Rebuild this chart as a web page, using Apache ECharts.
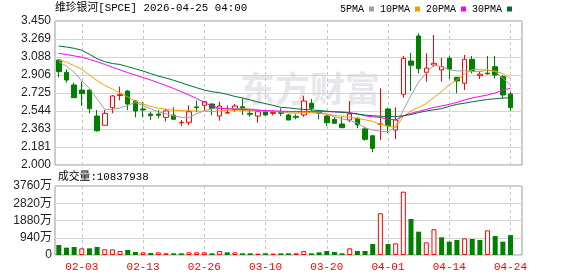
<!DOCTYPE html>
<html><head><meta charset="utf-8">
<script src="https://cdn.jsdelivr.net/npm/echarts@6/dist/echarts.min.js"></script>
<style>html,body{margin:0;padding:0;background:#fff}#c{width:578px;height:276px}</style>
</head><body><div id="c"></div>
<script>
const stockName = '维珍银河[SPCE]';
const stampText = '2026-04-25 04:00';
const volTitle = '成交量';
const dates = ['01-29','01-30','02-02','02-03','02-04','02-05','02-06','02-09','02-10','02-11',
  '02-12','02-13','02-17','02-18','02-19','02-20','02-23','02-24','02-25','02-26',
  '02-27','03-02','03-03','03-04','03-05','03-06','03-09','03-10','03-11','03-12',
  '03-13','03-16','03-17','03-18','03-19','03-20','03-23','03-24','03-25','03-26',
  '03-27','03-30','03-31','04-01','04-02','04-06','04-07','04-08','04-09','04-10',
  '04-13','04-14','04-15','04-16','04-17','04-20','04-21','04-22','04-23','04-24'];
const opens = [3.057,2.933,2.806,2.755,2.755,2.493,2.400,2.577,2.700,2.745,
  2.644,2.564,2.513,2.513,2.480,2.503,2.425,2.430,2.585,2.601,
  2.614,2.493,2.523,2.561,2.587,2.520,2.493,2.537,2.520,2.527,
  2.504,2.490,2.504,2.621,2.530,2.493,2.460,2.413,2.453,2.470,
  2.363,2.295,2.408,2.564,2.352,2.712,3.047,3.299,2.933,3.007,
  2.957,3.074,2.883,2.823,3.064,2.900,2.925,2.990,2.889,2.715];
const closes = [2.940,2.856,2.678,2.718,2.567,2.345,2.520,2.695,2.708,2.614,
  2.544,2.554,2.496,2.500,2.544,2.460,2.430,2.537,2.577,2.637,
  2.571,2.594,2.527,2.594,2.561,2.510,2.537,2.503,2.530,2.520,
  2.453,2.480,2.644,2.571,2.520,2.426,2.420,2.376,2.514,2.403,
  2.259,2.168,2.413,2.393,2.454,3.074,3.005,2.970,2.975,3.024,
  2.990,2.965,2.846,3.064,2.950,2.915,2.918,2.906,2.705,2.577];
const lows = [2.883,2.829,2.675,2.594,2.521,2.335,2.400,2.521,2.652,2.554,
  2.480,2.480,2.453,2.470,2.440,2.460,2.393,2.403,2.530,2.544,
  2.500,2.446,2.520,2.537,2.503,2.486,2.426,2.500,2.500,2.493,
  2.453,2.460,2.486,2.547,2.460,2.393,2.420,2.376,2.430,2.370,
  2.245,2.128,2.250,2.320,2.260,2.678,2.745,2.923,2.839,2.990,
  2.839,2.866,2.722,2.755,2.923,2.866,2.910,2.873,2.672,2.544];
const highs = [3.064,2.964,2.829,2.839,2.760,2.554,2.554,2.705,2.789,2.755,
  2.652,2.637,2.537,2.554,2.567,2.581,2.453,2.601,2.650,2.644,
  2.620,2.637,2.600,2.614,2.671,2.561,2.537,2.554,2.554,2.571,
  2.514,2.510,2.695,2.665,2.554,2.504,2.480,2.486,2.644,2.480,
  2.386,2.302,2.772,2.577,2.581,3.098,3.130,3.326,3.125,3.309,
  3.080,3.098,2.886,3.108,3.098,2.945,3.098,3.098,2.906,2.738];
const ma5 = [3.040,2.995,2.935,2.845,2.770,2.665,2.560,2.560,2.575,2.600,
  2.630,2.598,2.565,2.535,2.515,2.495,2.480,2.480,2.515,2.545,
  2.565,2.570,2.566,2.568,2.570,2.565,2.555,2.545,2.540,2.535,
  2.525,2.521,2.528,2.534,2.525,2.515,2.486,2.465,2.450,2.420,
  2.375,2.352,2.340,2.335,2.386,2.555,2.700,2.835,2.925,3.007,
  2.990,2.960,2.947,2.950,2.942,2.940,2.957,2.940,2.873,2.806];
const ma10 = [3.057,3.035,3.000,2.964,2.905,2.850,2.800,2.765,2.725,2.685,
  2.645,2.615,2.590,2.573,2.560,2.552,2.547,2.546,2.544,2.541,
  2.538,2.545,2.550,2.552,2.550,2.548,2.545,2.543,2.540,2.537,
  2.535,2.533,2.530,2.527,2.522,2.512,2.500,2.490,2.480,2.470,
  2.455,2.440,2.410,2.393,2.375,2.490,2.545,2.580,2.620,2.680,
  2.740,2.810,2.856,2.915,2.962,2.960,2.955,2.945,2.920,2.873];
const ma20 = [3.125,3.112,3.099,3.085,3.063,3.040,3.013,2.985,2.958,2.930,
  2.905,2.880,2.856,2.828,2.800,2.770,2.738,2.705,2.670,2.630,
  2.595,2.570,2.566,2.562,2.560,2.556,2.552,2.548,2.545,2.542,
  2.540,2.539,2.538,2.538,2.538,2.537,2.536,2.534,2.527,2.515,
  2.495,2.486,2.478,2.462,2.455,2.495,2.520,2.540,2.560,2.580,
  2.595,2.610,2.630,2.655,2.675,2.690,2.705,2.725,2.755,2.772];
const ma30 = [3.198,3.188,3.175,3.155,3.115,3.070,3.040,3.022,3.012,2.990,
  2.968,2.946,2.920,2.895,2.876,2.853,2.828,2.802,2.778,2.755,
  2.738,2.728,2.712,2.690,2.675,2.655,2.635,2.618,2.600,2.581,
  2.575,2.566,2.560,2.555,2.548,2.542,2.535,2.530,2.523,2.512,
  2.503,2.496,2.491,2.486,2.487,2.496,2.508,2.528,2.544,2.556,
  2.568,2.590,2.611,2.622,2.637,2.648,2.660,2.667,2.673,2.678];
const volumes = [5450000,4000000,4360000,3630000,3630000,4360000,3090000,3090000,2180000,2720000,
  1640000,1450000,1090000,1450000,910000,910000,910000,1450000,1450000,1450000,
  910000,2180000,1450000,1450000,910000,910000,730000,910000,730000,910000,
  910000,910000,2180000,910000,1450000,2180000,1640000,910000,3630000,2180000,
  2180000,6000000,22720000,6000000,6360000,34500000,19620000,12700000,6900000,14000000,
  9630000,7270000,8180000,9080000,8720000,8180000,13450000,10360000,7270000,10837938];
const maNames = ['5PMA','10PMA','20PMA','30PMA'];
const xTickLabels = ['02-03','02-13','02-26','03-10','03-20','04-01','04-14','04-24'];
const priceTickLabels = ['2.000','2.181','2.363','2.544','2.725','2.906','3.088','3.269','3.450'];
const volTickLabels = ['0','940万','1880万','2820万','3760万'];
const priceMin = 2.0, priceMax = 3.45;
const volMax = 37600000;

const UP = '#ff0000', DOWN = '#008000';
const maColors = ['#a0a0a0','#f0a000','#ff00ff','#006e32'];
const monoFont = '"Liberation Mono","Noto Sans CJK SC",monospace';
const labelFont = '"Liberation Sans",Arial,"Noto Sans CJK SC",sans-serif';

const cats = dates.concat(['']);
const isTick = (idx) => xTickLabels.indexOf(cats[idx]) >= 0;
const candleData = dates.map((d, i) => [opens[i], closes[i], lows[i], highs[i]]);
const volData = volumes.map((v, i) => {
  const up = i === 0 ? closes[i] >= opens[i] : closes[i] >= closes[i - 1];
  return { value: v, itemStyle: up ? { color: '#ffffff', borderColor: UP, borderWidth: 1 } : { color: DOWN } };
});
const mas = [ma5, ma10, ma20, ma30];

const vLines = (xi, yi) => ({
  type: 'line', name: 'grid' + xi, xAxisIndex: xi, yAxisIndex: yi, data: [], z: 1, silent: true,
  markLine: {
    silent: true, symbol: ['none', 'none'], z: 1, animation: false,
    label: { show: false },
    lineStyle: { color: '#c8c8c8', type: [3, 3], width: 1 },
    emphasis: { disabled: true },
    data: xTickLabels.map((d) => ({ xAxis: d }))
  }
});

const chart = echarts.init(document.getElementById('c'), null, { renderer: 'canvas' });
chart.setOption({
  animation: false,
  backgroundColor: '#ffffff',
  title: [
    { text: stockName + ' ' + stampText, left: 55, top: 3, padding: 0,
      textStyle: { fontSize: 10.8, fontWeight: 'normal', color: '#000', fontFamily: monoFont } },
    { text: volTitle + ':' + volumes[volumes.length - 1], left: 58, top: 172, padding: 0,
      textStyle: { fontSize: 10.8, fontWeight: 'normal', color: '#000', fontFamily: monoFont } }
  ],
  legend: {
    data: maNames, left: 340, top: 4, padding: 0, align: 'right', icon: 'rect',
    itemWidth: 5, itemHeight: 5, itemGap: 6,
    textStyle: { fontSize: 10, color: '#000', fontFamily: monoFont }
  },
  graphic: [
    { type: 'text', left: 240, top: 71, z: 0, silent: true,
      style: { text: '东方财富', fill: '#e6e6ec', font: 'bold 35px "Noto Sans CJK SC"' } }
  ],
  grid: [
    { left: 55, width: 467, top: 21, height: 144, show: true, borderColor: '#999', borderWidth: 1, backgroundColor: 'transparent' },
    { left: 55, width: 467, top: 186, height: 69, show: true, borderColor: '#999', borderWidth: 1, backgroundColor: 'transparent' }
  ],
  xAxis: [
    { type: 'category', gridIndex: 0, data: cats, boundaryGap: true,
      axisLine: { show: false }, axisTick: { show: false }, axisLabel: { show: false }, splitLine: { show: false } },
    { type: 'category', gridIndex: 1, data: cats, boundaryGap: true,
      axisLine: { show: false }, axisTick: { show: false },
      axisLabel: { show: true, interval: (i) => isTick(i), color: UP, fontSize: 11, fontFamily: monoFont, margin: 7 },
      splitLine: { show: false } }
  ],
  yAxis: [
    { type: 'value', gridIndex: 0, min: priceMin, max: priceMax, position: 'right', show: false, splitLine: { show: false } },
    { type: 'value', gridIndex: 0, min: 0, max: priceTickLabels.length - 1, interval: 1, position: 'left',
      axisLine: { show: false }, axisTick: { show: false },
      axisLabel: { formatter: (v) => priceTickLabels[Math.round(v)], color: '#222', fontSize: 12, fontFamily: labelFont, margin: 4 },
      splitLine: { show: true, lineStyle: { color: '#d4d4d4', width: 1 } } },
    { type: 'value', gridIndex: 1, min: 0, max: volMax, interval: volMax / 4, position: 'left',
      axisLine: { show: false }, axisTick: { show: false },
      axisLabel: { formatter: (v) => volTickLabels[Math.round(v / (volMax / 4))], color: '#222', fontSize: 12, fontFamily: labelFont, margin: 3 },
      splitLine: { show: true, lineStyle: { color: '#d4d4d4', width: 1 } } }
  ],
  series: [
    vLines(0, 0), vLines(1, 2),
    { type: 'candlestick', name: 'K', xAxisIndex: 0, yAxisIndex: 0, data: candleData, barWidth: 5, z: 2,
      itemStyle: { color: '#ffffff', color0: DOWN, borderColor: UP, borderColor0: DOWN, borderWidth: 1 } }
  ].concat(mas.map((m, k) => ({
    type: 'line', name: maNames[k], xAxisIndex: 0, yAxisIndex: 0, data: m, symbol: 'none', z: 3,
    lineStyle: { color: maColors[k], width: 1 }, itemStyle: { color: maColors[k] }
  }))).concat([
    { type: 'bar', name: 'VOL', xAxisIndex: 1, yAxisIndex: 2, data: volData, barWidth: 5, z: 2 }
  ])
});
</script></body></html>
